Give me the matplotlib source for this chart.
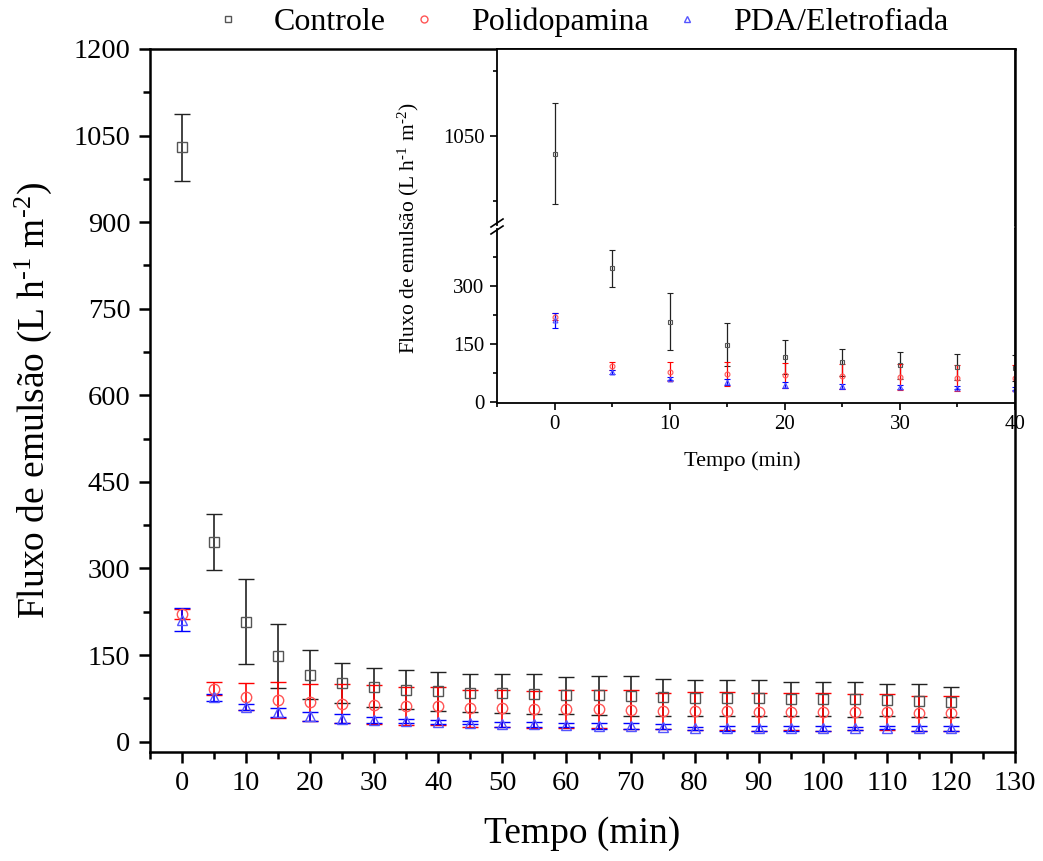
import matplotlib
matplotlib.use("Agg")
import matplotlib.pyplot as plt
from matplotlib.lines import Line2D
from matplotlib.ticker import MultipleLocator

plt.rcParams["font.family"] = ["Liberation Serif", "DejaVu Serif"]
plt.rcParams["mathtext.fontset"] = "custom"
plt.rcParams["mathtext.rm"] = "Liberation Serif"
plt.rcParams["mathtext.default"] = "rm"

# ─── Dados ───────────────────────────────────────────────────────────────────
tempo = [0, 5, 10, 15, 20, 25, 30, 35, 40, 45, 50, 55, 60,
         65, 70, 75, 80, 85, 90, 95, 100, 105, 110, 115, 120]

controle = [1030, 346, 208, 148, 116, 102, 94, 90, 87, 84, 84, 82, 80,
            80, 79, 77, 75, 75, 75, 74, 74, 73, 72, 71, 69]
controle_err = [58, 48, 74, 55, 43, 35, 34, 34, 34, 33, 34, 35, 32,
                34, 35, 32, 31, 31, 31, 30, 30, 30, 27, 28, 26]

polidopamina = [221, 92, 78, 72, 68, 66, 64, 62, 62, 58, 58, 56, 56,
                56, 55, 53, 53, 53, 52, 52, 52, 51, 51, 49, 49]
polidopamina_err = [9, 11, 24, 31, 32, 33, 34, 33, 33, 32, 32, 32, 33,
                    33, 34, 32, 33, 33, 33, 32, 33, 31, 31, 30, 30]

pda = [211, 77, 60, 51, 44, 40, 38, 36, 34, 33, 30, 30, 29,
       27, 27, 26, 23, 23, 23, 23, 23, 23, 24, 23, 23]
pda_err = [20, 6, 5, 8, 8, 7, 5, 4, 4, 3, 4, 4, 3,
           5, 5, 5, 3, 4, 4, 4, 4, 3, 3, 4, 4]

series = [
    ("Controle", controle, controle_err, "s", "#222222", "#555555"),
    ("Polidopamina", polidopamina, polidopamina_err, "o", "#ff0000", "#ff5555"),
    ("PDA/Eletrofiada", pda, pda_err, "^", "#0000ff", "#5555ff"),
]

YLABEL = r"Fluxo de emulsão (L h$^{\text{-}1}$ m$^{\text{-}2}$)"

W, H = 1043, 861


def fx(px):
    return px / W


def fy(py):
    return 1 - py / H


fig = plt.figure(figsize=(W / 100, H / 100), dpi=100)

# ─── Gráfico principal ───────────────────────────────────────────────────────
ax = fig.add_axes([fx(150), fy(752), fx(1015) - fx(150), fy(49) - fy(752)])
for label, y, err, mk, col, mcol in series:
    ax.errorbar(tempo, y, yerr=err, fmt=mk, ls="none", color=col, ecolor=col,
                mfc="none", mec=mcol, ms=7.5, mew=1.0, elinewidth=1.2,
                capsize=5.5, capthick=1.2)
ax.set_xlim(-5, 130)
ax.set_ylim(-18, 1200)
ax.xaxis.set_major_locator(MultipleLocator(10))
ax.xaxis.set_minor_locator(MultipleLocator(5))
ax.yaxis.set_major_locator(MultipleLocator(150))
ax.yaxis.set_minor_locator(MultipleLocator(75))
ax.tick_params(which="both", direction="out", width=1.8, labelsize=20.5)
ax.tick_params(which="major", length=8, pad=6)
ax.tick_params(which="minor", length=5)
for s in ax.spines.values():
    s.set_linewidth(1.8)
ax.set_xlabel("Tempo (min)", fontsize=27, labelpad=14)
ax.set_ylabel(YLABEL, fontsize=27, labelpad=14)

handles = [Line2D([], [], ls="none", marker=mk, mfc="none", mec=mcol, ms=5, mew=1.0)
           for _, _, _, mk, _, mcol in series]
fig.legend(handles, [s[0] for s in series], loc="center", ncol=3,
           bbox_to_anchor=(fx(580), fy(22)), frameon=False, fontsize=23,
           handlelength=1.0, handletextpad=0.95, columnspacing=0.7)

# ─── Inset com eixo quebrado ─────────────────────────────────────────────────
ins_l, ins_w = fx(497), fx(1015) - fx(497)
ax_lo = fig.add_axes([ins_l, fy(403), ins_w, fy(229) - fy(403)])
ax_hi = fig.add_axes([ins_l, fy(225), ins_w, fy(49) - fy(225)])

n_ins = 9
for a in (ax_lo, ax_hi):
    a.set_facecolor("white")
    for label, y, err, mk, col, mcol in series:
        a.errorbar(tempo[:n_ins], y[:n_ins], yerr=err[:n_ins], fmt=mk, ls="none",
                   color=col, ecolor=col, mfc="none", mec=mcol, ms=3.5, mew=0.8,
                   elinewidth=0.9, capsize=2.5, capthick=0.9)
    a.set_xlim(-5, 40)
    a.yaxis.set_major_locator(MultipleLocator(150))
    a.yaxis.set_minor_locator(MultipleLocator(75))
    a.xaxis.set_major_locator(MultipleLocator(10))
    a.xaxis.set_minor_locator(MultipleLocator(5))
    a.tick_params(which="both", direction="out", width=1.2, labelsize=15)
    a.tick_params(which="major", length=5, pad=4)
    a.tick_params(which="minor", length=3)
    for s in a.spines.values():
        s.set_linewidth(1.3)

ax_lo.set_ylim(-3.4, 448)
ax_hi.set_ylim(947.5, 1150.7)
ax_lo.spines["top"].set_visible(False)
ax_hi.spines["bottom"].set_visible(False)
ax_hi.tick_params(axis="x", which="both", bottom=False, labelbottom=False)
ax_lo.set_xlabel("Tempo (min)", fontsize=16, labelpad=12)
ax_lo.xaxis.label.set_x((742 - 497) / (1015 - 497))
fig.text(fx(408), fy(228), YLABEL, fontsize=15.5,
         rotation=90, ha="center", va="center")

# marcas de quebra "//"
for yb in (223, 230):
    fig.add_artist(Line2D([fx(491), fx(503)], [fy(yb + 4), fy(yb - 4)],
                          transform=fig.transFigure, color="black", lw=1.2))

fig.savefig("out.png", dpi=100)
